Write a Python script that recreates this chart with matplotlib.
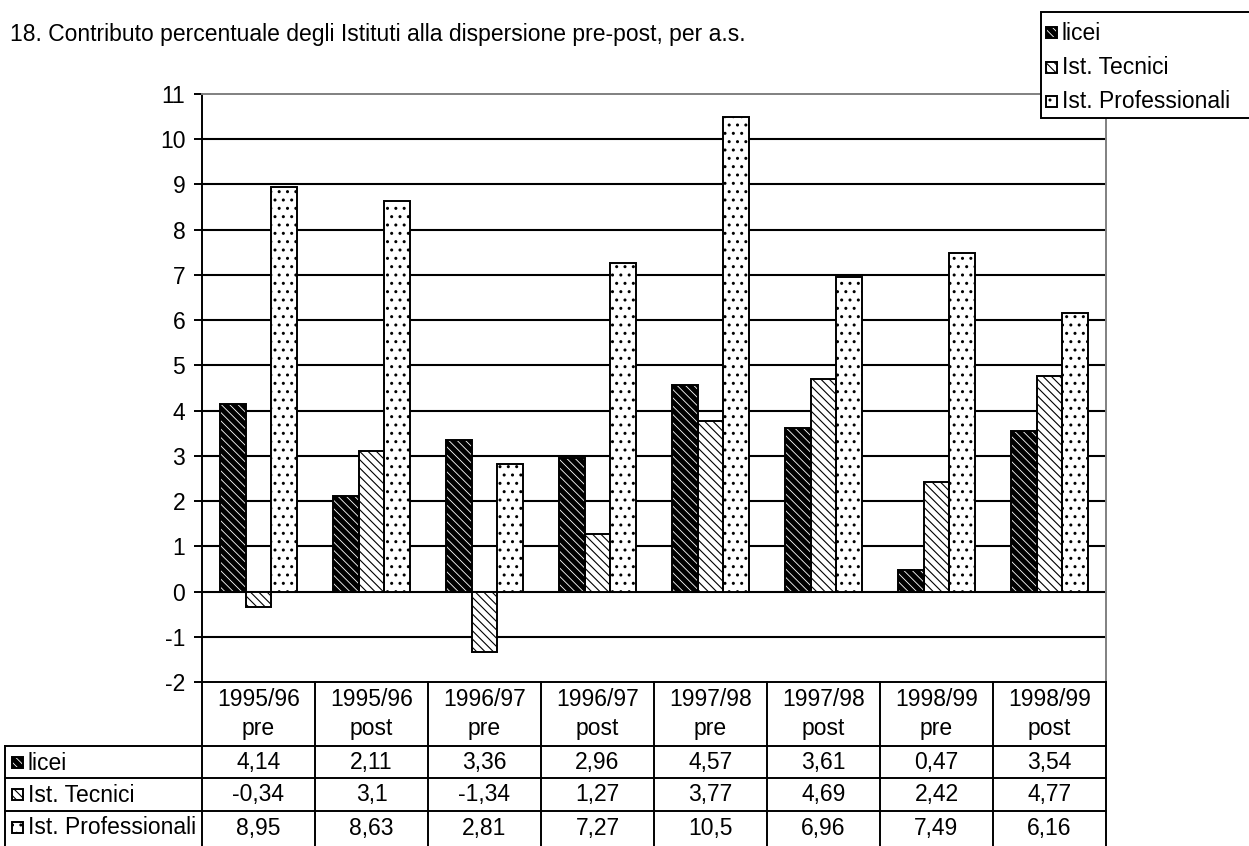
import numpy as np
import matplotlib
import matplotlib.pyplot as plt
from matplotlib.patches import Rectangle

matplotlib.use("Agg")

plt.rcParams["font.family"] = ["Liberation Sans", "DejaVu Sans"]
plt.rcParams["axes.unicode_minus"] = False

TITLE = "18. Contributo percentuale degli Istituti alla dispersione pre-post, per a.s."

years = ["1995/96", "1995/96", "1996/97", "1996/97",
         "1997/98", "1997/98", "1998/99", "1998/99"]
phases = ["pre", "post", "pre", "post", "pre", "post", "pre", "post"]
series_names = ["licei", "Ist. Tecnici", "Ist. Professionali"]
licei = [4.14, 2.11, 3.36, 2.96, 4.57, 3.61, 0.47, 3.54]
tecnici = [-0.34, 3.1, -1.34, 1.27, 3.77, 4.69, 2.42, 4.77]
professionali = [8.95, 8.63, 2.81, 7.27, 10.5, 6.96, 7.49, 6.16]
y_ticks = list(range(-2, 12))

# face colour, hatch colour, hatch pattern, hatch line width per series
STYLES = [
    ("black", "white", "\\" * 4, 0.6),
    ("white", "black", "\\" * 4, 0.8),
    ("white", "black", "..", 1.0),
]

W, H = 1249, 846
FS = 16.5
LW = 1.4


def draw_patch(ax, x, y, w, h, style):
    face, hcol, hatch, hlw = style
    with plt.rc_context({"hatch.linewidth": hlw}):
        ax.add_patch(Rectangle((x, y), w, h, facecolor=face, edgecolor=hcol,
                               hatch=hatch, linewidth=0))
    ax.add_patch(Rectangle((x, y), w, h, fill=False, edgecolor="black",
                           linewidth=LW))


def main():
    fig = plt.figure(figsize=(W / 100, H / 100), dpi=100)
    ax = fig.add_axes([202 / W, (H - 682) / H, 904 / W, 588 / H])

    series = [licei, tecnici, professionali]
    x = np.arange(len(years))
    bw = 0.225
    for k, (vals, style) in enumerate(zip(series, STYLES)):
        face, hcol, hatch, hlw = style
        pos = x + (k - 1) * bw
        with plt.rc_context({"hatch.linewidth": hlw}):
            ax.bar(pos, vals, bw, color=face, edgecolor=hcol, hatch=hatch,
                   linewidth=0, zorder=2)
        ax.bar(pos, vals, bw, fill=False, edgecolor="black",
               linewidth=LW, zorder=3)

    for t in y_ticks[1:-1]:
        ax.axhline(t, color="black", linewidth=1.5, zorder=1)

    ax.set_xlim(-0.5, len(years) - 0.5)
    ax.set_ylim(y_ticks[0], y_ticks[-1])
    ax.set_yticks(y_ticks)
    ax.set_xticks([])
    ax.tick_params(axis="y", length=6, width=LW, labelsize=FS, pad=6)
    for side in ("left", "bottom"):
        ax.spines[side].set_color("black")
        ax.spines[side].set_linewidth(LW)
    for side in ("top", "right"):
        ax.spines[side].set_color("#808080")
        ax.spines[side].set_linewidth(LW)

    # overlay in pixel coordinates for the data table, legend and title
    ov = fig.add_axes([0, 0, 1, 1])
    ov.set_xlim(0, W)
    ov.set_ylim(H, 0)
    ov.axis("off")

    fig.text(10 / W, 1 - 34 / H, TITLE, fontsize=FS, va="center", ha="left")

    x0, x1 = 202, 1106
    step = (x1 - x0) / len(years)
    rows = [746, 778, 811]
    for i in range(len(years) + 1):
        xe = x0 + i * step
        ov.plot([xe, xe], [682, H], color="black", lw=LW)
    ov.plot([5, 5], [rows[0], H], color="black", lw=LW)
    for r in rows:
        ov.plot([5, x1], [r, r], color="black", lw=LW)

    for i, (yr, ph) in enumerate(zip(years, phases)):
        cx = x0 + (i + 0.5) * step
        ov.text(cx, 700, yr, fontsize=FS, ha="center", va="center")
        ov.text(cx, 729, ph, fontsize=FS, ha="center", va="center")

    row_centers = [763, 795, 828]
    for vals, name, style, cy in zip(series, series_names, STYLES, row_centers):
        draw_patch(ov, 12, cy - 6, 11, 11, style)
        ov.text(28, cy, name, fontsize=FS, ha="left", va="center")
        for i, v in enumerate(vals):
            cx = x0 + (i + 0.5) * step
            label = f"{v:g}".replace(".", ",")
            ov.text(cx, cy, label, fontsize=FS, ha="center", va="center")

    # legend box, cut by the right edge of the figure
    ov.add_patch(Rectangle((1041, 12), 240, 106, facecolor="white",
                           edgecolor="black", linewidth=LW))
    for name, style, cy in zip(series_names, STYLES, [33, 68, 102]):
        draw_patch(ov, 1046, cy - 6, 11, 11, style)
        ov.text(1062, cy, name, fontsize=FS, ha="left", va="center")

    fig.savefig("out.png", dpi=100)
    plt.close(fig)


if __name__ == "__main__":
    main()
